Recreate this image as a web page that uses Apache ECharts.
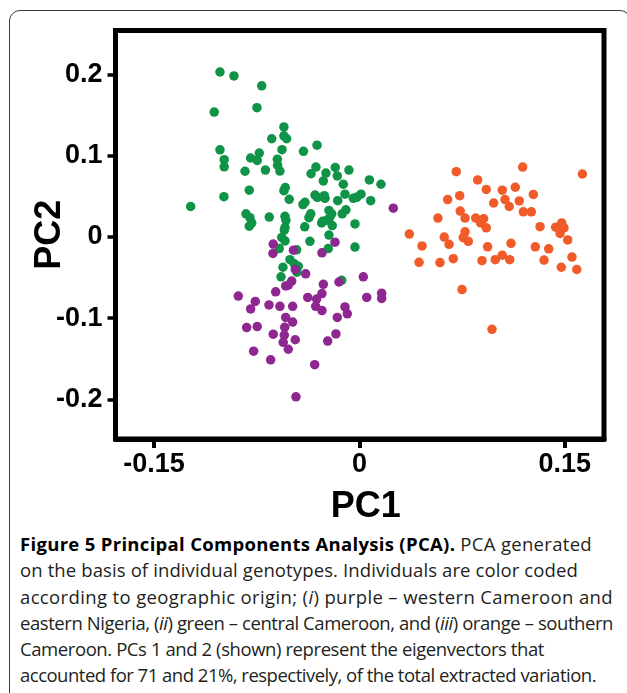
<!DOCTYPE html>
<html>
<head>
<meta charset="utf-8">
<script src="https://cdn.jsdelivr.net/npm/echarts@6/dist/echarts.min.js"></script>
<style>
  html, body { margin: 0; padding: 0; background: #fff; width: 627px; height: 693px; overflow: hidden; }
  #frame { position: absolute; left: 9px; top: 10px; width: 622px; height: 720px; border: 1.5px solid #3a3a3a; border-radius: 11px; box-sizing: border-box; }
  #chart { position: absolute; left: 0; top: 0; width: 627px; height: 530px; }
  #caption { position: absolute; left: 20px; top: 531px; font-family: "Open Sans", "Noto Sans", sans-serif; font-size: 18.5px; line-height: 26.3px; color: #231f20; white-space: nowrap; }
  #caption .ln { display: block; height: 26.3px; }
  #caption .ln span { display: inline-block; }
  #caption b { font-weight: 700; color: #000; }
</style>
</head>
<body>
<div id="frame"></div>
<div id="chart"></div>
<div id="caption">
<div class="ln"><span><b>Figure 5 Principal Components Analysis (PCA).</b> PCA generated</span></div>
<div class="ln"><span>on the basis of individual genotypes. Individuals are color coded</span></div>
<div class="ln"><span>according to geographic origin; (<i>i</i>) purple – western Cameroon and</span></div>
<div class="ln"><span>eastern Nigeria, (<i>ii</i>) green – central Cameroon, and (<i>iii</i>) orange – southern</span></div>
<div class="ln"><span>Cameroon. PCs 1 and 2 (shown) represent the eigenvectors that</span></div>
<div class="ln"><span>accounted for 71 and 21%, respectively, of the total extracted variation.</span></div>
</div>
<script>
// ---- data (PC1, PC2) ----
const greenPC1 = [-0.1019,-0.0917,-0.0714,-0.1061,-0.0749,-0.0552,-0.0641,-0.0552,-0.0532,-0.0566,-0.1019,-0.0409,-0.0310,-0.0988,-0.0988,-0.0795,-0.0732,-0.0747,-0.0600,-0.0598,-0.0581,-0.0836,-0.0687,-0.0318,-0.0354,-0.0245,-0.0177,-0.0077,-0.0162,-0.0264,0.0072,0.0157,-0.0118,-0.0542,-0.0552,-0.0805,-0.0990,-0.1233,-0.0513,-0.0325,-0.0308,-0.0257,-0.0252,-0.0106,-0.0159,-0.0045,-0.0020,0.0011,0.0082,-0.0398,-0.0413,-0.0829,-0.0800,-0.0787,-0.0805,-0.0659,-0.0544,-0.0537,-0.0356,-0.0369,-0.0223,-0.0203,-0.0221,-0.0240,-0.0099,-0.0126,-0.0269,-0.0276,-0.0400,-0.0544,-0.0549,-0.0199,-0.0033,-0.0223,-0.0568,-0.0544,-0.0362,-0.0033,-0.0459,-0.0228,-0.0586,-0.0508,-0.0478,-0.0559,-0.0447,-0.0457,-0.0573,-0.0130];
const greenPC2 = [0.2032,0.1983,0.1862,0.1539,0.1592,0.1355,0.1210,0.1246,0.1210,0.1076,0.1074,0.1055,0.1131,0.0953,0.0864,0.0973,0.1034,0.0943,0.0958,0.0885,0.0812,0.0810,0.0824,0.0861,0.0779,0.0788,0.0856,0.0824,0.0752,0.0691,0.0703,0.0650,0.0650,0.0610,0.0570,0.0577,0.0497,0.0376,0.0464,0.0516,0.0489,0.0509,0.0476,0.0528,0.0448,0.0476,0.0489,0.0528,0.0448,0.0428,0.0400,0.0286,0.0238,0.0173,0.0133,0.0246,0.0255,0.0206,0.0286,0.0238,0.0327,0.0286,0.0230,0.0206,0.0335,0.0286,0.0194,0.0173,0.0125,0.0116,0.0085,0.0141,0.0161,0.0024,-0.0005,-0.0048,-0.0053,-0.0124,-0.0158,-0.0142,-0.0142,-0.0279,-0.0327,-0.0372,-0.0360,-0.0433,-0.0490,-0.0533];

const purplePC1 = [0.0247,-0.0630,-0.0632,-0.0482,-0.0274,-0.0179,-0.0469,-0.0393,-0.0150,0.0028,-0.0495,-0.0520,-0.0539,-0.0264,-0.0612,-0.0885,-0.0378,-0.0313,-0.0274,0.0053,0.0162,0.0162,-0.0761,-0.0795,-0.0661,-0.0581,-0.0488,-0.0320,-0.0274,-0.0106,-0.0089,-0.0162,-0.0539,-0.0488,-0.0824,-0.0747,-0.0546,-0.0630,-0.0549,-0.0172,-0.0232,-0.0557,-0.0469,-0.0520,-0.0773,-0.0649,-0.0327,-0.0464];
const purplePC2 = [0.0355,-0.0087,-0.0202,-0.0162,-0.0194,-0.0063,-0.0400,-0.0453,-0.0554,-0.0490,-0.0542,-0.0594,-0.0602,-0.0582,-0.0675,-0.0727,-0.0744,-0.0764,-0.0696,-0.0744,-0.0691,-0.0756,-0.0793,-0.0885,-0.0836,-0.0853,-0.0853,-0.0853,-0.0905,-0.0861,-0.0945,-0.0990,-0.0990,-0.1047,-0.1115,-0.1103,-0.1112,-0.1196,-0.1208,-0.1193,-0.1281,-0.1297,-0.1265,-0.1382,-0.1406,-0.1512,-0.1572,-0.1968];

const orangePC1 = [0.0707,0.1192,0.1628,0.0863,0.0926,0.1043,0.1138,0.1270,0.0644,0.0732,0.0980,0.1063,0.1094,0.1167,0.1197,0.1255,0.0736,0.0771,0.0573,0.0849,0.0907,0.0885,0.0926,0.1319,0.1433,0.1477,0.1494,0.1465,0.0364,0.0771,0.0758,0.0795,0.0619,0.0654,0.0457,0.1521,0.0936,0.1107,0.1284,0.1382,0.0435,0.0588,0.0685,0.0895,0.0992,0.1043,0.1097,0.1348,0.1552,0.1474,0.1587,0.0749,0.0968];
const orangePC2 = [0.0804,0.0861,0.0776,0.0703,0.0585,0.0577,0.0613,0.0525,0.0461,0.0509,0.0419,0.0461,0.0376,0.0444,0.0310,0.0310,0.0319,0.0234,0.0234,0.0234,0.0225,0.0173,0.0113,0.0128,0.0121,0.0173,0.0113,0.0044,0.0036,0.0064,-0.0008,-0.0053,0.0000,-0.0090,-0.0109,-0.0036,-0.0121,-0.0078,-0.0121,-0.0145,-0.0312,-0.0315,-0.0267,-0.0291,-0.0279,-0.0223,-0.0279,-0.0284,-0.0247,-0.0372,-0.0400,-0.0647,-0.1136];

const xTicks = [-0.15, 0, 0.15];
const yTicks = [-0.2, -0.1, 0, 0.1, 0.2];
const xName = 'PC1';
const yName = 'PC2';

// layout: caption line widths measured on the reference (px)
const captionLineWidths = [572, 558, 593, 593, 524, 576];

function zip(a, b) { return a.map((v, i) => [v, b[i]]); }

function fitCaption() {
  const spans = document.querySelectorAll('#caption .ln span');
  spans.forEach((sp, i) => {
    sp.style.letterSpacing = '0px';
    const natural = sp.getBoundingClientRect().width;
    const n = sp.textContent.length;
    const ls = (captionLineWidths[i] - natural) / Math.max(1, n);
    sp.style.letterSpacing = ls.toFixed(3) + 'px';
  });
}
fitCaption();
if (document.fonts && document.fonts.ready) document.fonts.ready.then(fitCaption);

const chart = echarts.init(document.getElementById('chart'), null, { renderer: 'canvas' });
const labelFont = { fontFamily: '"Liberation Sans", Arial, sans-serif', fontWeight: 'bold', fontSize: 27, color: '#000' };
const nameFont = { fontFamily: '"Liberation Sans", Arial, sans-serif', fontWeight: 'bold', fontSize: 36, color: '#000' };

chart.setOption({
  animation: false,
  backgroundColor: 'transparent',
  grid: { left: 115.5, top: 30.5, width: 488.5, height: 415, show: true, borderColor: '#000', borderWidth: 5, backgroundColor: 'transparent' },
  xAxis: {
    type: 'value', min: -0.1782, max: 0.1786,
    splitLine: { show: false },
    axisLine: { show: true, onZero: false, lineStyle: { color: '#000', width: 5 } },
    axisTick: { show: true, length: 9, customValues: xTicks, lineStyle: { color: '#000', width: 4 } },
    axisLabel: Object.assign({ customValues: xTicks, margin: 12, showMinLabel: true, showMaxLabel: true }, labelFont),
    name: xName, nameLocation: 'middle', nameGap: 50,
    nameTextStyle: Object.assign({ padding: [0, 0, 0, 12] }, nameFont)
  },
  yAxis: {
    type: 'value', min: -0.2487, max: 0.2543,
    splitLine: { show: false },
    axisLine: { show: true, onZero: false, lineStyle: { color: '#000', width: 5 } },
    axisTick: { show: true, length: 8, customValues: yTicks, lineStyle: { color: '#000', width: 3.5 } },
    axisLabel: Object.assign({ customValues: yTicks, margin: 13, showMinLabel: true, showMaxLabel: true }, labelFont),
    name: yName, nameLocation: 'middle', nameGap: 47, nameRotate: 90, nameMoveOverlap: false,
    nameTextStyle: nameFont
  },
  series: [
    { name: 'green', type: 'scatter', data: zip(greenPC1, greenPC2), symbolSize: 9.5, itemStyle: { color: '#0f9346', opacity: 1 }, z: 2 },
    { name: 'purple', type: 'scatter', data: zip(purplePC1, purplePC2), symbolSize: 9.5, itemStyle: { color: '#8e278f', opacity: 1 }, z: 3 },
    { name: 'orange', type: 'scatter', data: zip(orangePC1, orangePC2), symbolSize: 9.5, itemStyle: { color: '#f15a29', opacity: 1 }, z: 3 }
  ]
});
</script>
</body>
</html>
